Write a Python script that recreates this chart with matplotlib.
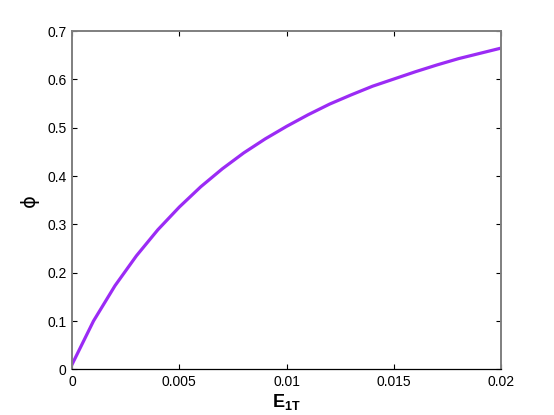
import matplotlib
matplotlib.use("Agg")
import matplotlib.pyplot as plt

# values
e1t = [0.000, 0.001, 0.002, 0.003, 0.004, 0.005, 0.006, 0.007, 0.008, 0.009, 0.010,
       0.011, 0.012, 0.013, 0.014, 0.015, 0.016, 0.017, 0.018, 0.019, 0.020]
phi = [0.010, 0.100, 0.173, 0.235, 0.289, 0.336, 0.378, 0.415, 0.448, 0.477, 0.503,
       0.527, 0.549, 0.568, 0.586, 0.601, 0.616, 0.630, 0.643, 0.654, 0.665]
xticks = [0, 0.005, 0.01, 0.015, 0.02]
xticklabels = ['0', '0.005', '0.01', '0.015', '0.02']
yticks = [0, 0.1, 0.2, 0.3, 0.4, 0.5, 0.6, 0.7]
yticklabels = ['0', '0.1', '0.2', '0.3', '0.4', '0.5', '0.6', '0.7']

plt.rcParams['font.family'] = ['Liberation Sans', 'DejaVu Sans']
plt.rcParams['mathtext.fontset'] = 'custom'
plt.rcParams['mathtext.bf'] = 'Liberation Sans:bold'
plt.rcParams['mathtext.rm'] = 'Liberation Sans'

fig = plt.figure(figsize=(5.54, 4.15), dpi=100)
ax = fig.add_axes([0.13, 0.11, 0.775, 0.815])

ax.plot(e1t, phi, color='#9b2bf5', linewidth=2.3, solid_joinstyle='miter')

ax.set_xlim(0, 0.02)
ax.set_ylim(0, 0.7)
ax.set_xticks(xticks)
ax.set_xticklabels(xticklabels)
ax.set_yticks(yticks)
ax.set_yticklabels(yticklabels)
ax.tick_params(direction='in', length=3.5, width=0.8, labelsize=10,
               top=True, right=True, pad=4)

# gray frame, black bottom axis as in the original rendering
for side in ['left', 'top', 'right']:
    ax.spines[side].set_color('#7f7f7f')
    ax.spines[side].set_linewidth(1.4)
ax.spines['bottom'].set_color('black')
ax.spines['bottom'].set_linewidth(0.9)

ax.set_xlabel(r'$\mathbf{E_{1T}}$', fontsize=13, labelpad=2)
ax.set_ylabel('ϕ', fontsize=14, labelpad=6, family=['DejaVu Sans'])

fig.savefig('out.png', dpi=100)
